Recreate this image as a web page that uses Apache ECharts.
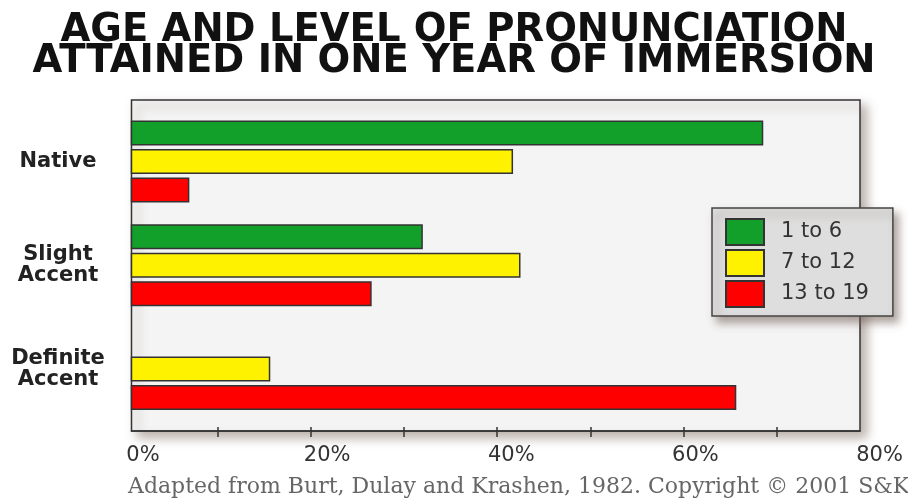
<!DOCTYPE html>
<html>
<head>
<meta charset="utf-8">
<script src="https://cdn.jsdelivr.net/npm/echarts@6/dist/echarts.min.js"></script>
<style>
  html, body { margin: 0; padding: 0; background: #fff; }
  #chart { width: 908px; height: 498px; }
</style>
</head>
<body>
<div id="chart"></div>
<script>
// categories, top to bottom
const categories = ['Native', 'Slight\nAccent', 'Definite\nAccent']
// percent of each age group reaching each level
const age1to6 = [68.6, 32.0, 0]
const age7to12 = [41.7, 42.5, 15.6]
const age13to19 = [6.9, 26.5, 65.7]
const seriesNames = ['1 to 6', '7 to 12', '13 to 19']
const tickValues = [10, 20, 30, 40, 50, 60, 70]
const labelValues = [0, 20, 40, 60, 80]

const chart = echarts.init(document.getElementById('chart'))

const barStyle = (color) => ({
  color: color,
  borderColor: '#333',
  borderWidth: 1.5,
})

const option = {
  animation: false,
  backgroundColor: '#fff',
  title: [
    {
      text: 'AGE AND LEVEL OF PRONUNCIATION\nATTAINED IN ONE YEAR OF IMMERSION',
      left: 'center',
      top: 10,
      textStyle: {
        fontFamily: 'DejaVu Sans',
        fontWeight: 'bold',
        fontSize: 38.5,
        lineHeight: 31,
        color: '#111',
      },
    },
    {
      text: 'Adapted from Burt, Dulay and Krashen, 1982. Copyright \u00a9 2001 S&K',
      left: 128,
      top: 476,
      padding: 0,
      textStyle: {
        fontFamily: 'DejaVu Serif',
        fontWeight: 'normal',
        fontSize: 22,
        color: '#666',
      },
    },
  ],
  legend: {
    orient: 'vertical',
    left: 712,
    top: 208,
    padding: [10, 24, 8, 13],
    itemWidth: 38,
    itemHeight: 26,
    itemGap: 3,
    icon: 'rect',
    backgroundColor: '#dedede',
    borderColor: '#444',
    borderWidth: 1.5,
    shadowBlur: 8,
    shadowOffsetX: 5,
    shadowOffsetY: 6,
    shadowColor: 'rgba(110, 90, 80, 0.55)',
    textStyle: {
      fontFamily: 'DejaVu Sans',
      fontSize: 21,
      color: '#333',
      padding: [0, 0, 0, 12],
    },
    data: seriesNames,
  },
  grid: [
    // frame
    {
      show: true,
      left: 131.5,
      right: 48,
      top: 100,
      bottom: 67,
      backgroundColor: '#f4f4f4',
      borderColor: '#333',
      borderWidth: 1.5,
      shadowBlur: 10,
      shadowOffsetX: 6,
      shadowOffsetY: 6,
      shadowColor: 'rgba(120, 100, 90, 0.5)',
    },
    // bars
    {
      left: 131.5,
      right: 48,
      top: 109.6,
      bottom: 77,
    },
    // x labels
    {
      left: 143,
      right: 28.5,
      top: 100,
      bottom: 67,
    },
  ],
  xAxis: [
    {
      type: 'value',
      gridIndex: 0,
      min: 0.68,
      max: 79,
      axisLine: { show: true, lineStyle: { color: '#333', width: 1.5 } },
      axisTick: {
        show: true,
        inside: true,
        length: 4,
        customValues: tickValues,
        lineStyle: { color: '#333', width: 1.5 },
      },
      axisLabel: { show: false },
      splitLine: { show: false },
    },
    {
      type: 'value',
      gridIndex: 1,
      min: 0.68,
      max: 79,
      offset: 10,
      axisLine: { show: false },
      axisTick: {
        show: true,
        length: 6,
        customValues: tickValues,
        lineStyle: { color: '#333', width: 1.5 },
      },
      axisLabel: { show: false },
      splitLine: { show: false },
    },
    {
      type: 'value',
      gridIndex: 2,
      min: 0,
      max: 80,
      axisLine: { show: false },
      axisTick: { show: false },
      splitLine: { show: false },
      axisLabel: {
        customValues: labelValues,
        formatter: '{value}%',
        margin: 14,
        fontFamily: 'DejaVu Sans',
        fontSize: 21,
        color: '#333',
      },
    },
  ],
  yAxis: [
    { type: 'value', gridIndex: 0, show: false },
    {
      type: 'category',
      gridIndex: 1,
      inverse: true,
      data: categories,
      axisLine: { show: false },
      axisTick: { show: false },
      axisLabel: {
        align: 'center',
        margin: 73.5,
        fontFamily: 'DejaVu Sans',
        fontWeight: 'bold',
        fontSize: 21,
        lineHeight: 21,
        color: '#222',
      },
    },
    { type: 'value', gridIndex: 2, show: false },
  ],
  series: [
    {
      name: seriesNames[0],
      type: 'bar',
      xAxisIndex: 1,
      yAxisIndex: 1,
      barWidth: 25,
      barGap: '14%',
      itemStyle: barStyle('#12a02a'),
      data: age1to6,
    },
    {
      name: seriesNames[1],
      type: 'bar',
      xAxisIndex: 1,
      yAxisIndex: 1,
      barWidth: 25,
      barGap: '14%',
      itemStyle: barStyle('#fff200'),
      data: age7to12,
    },
    {
      name: seriesNames[2],
      type: 'bar',
      xAxisIndex: 1,
      yAxisIndex: 1,
      barWidth: 25,
      barGap: '14%',
      itemStyle: barStyle('#ff0000'),
      data: age13to19,
    },
  ],
}

chart.setOption(option)
</script>
</body>
</html>
